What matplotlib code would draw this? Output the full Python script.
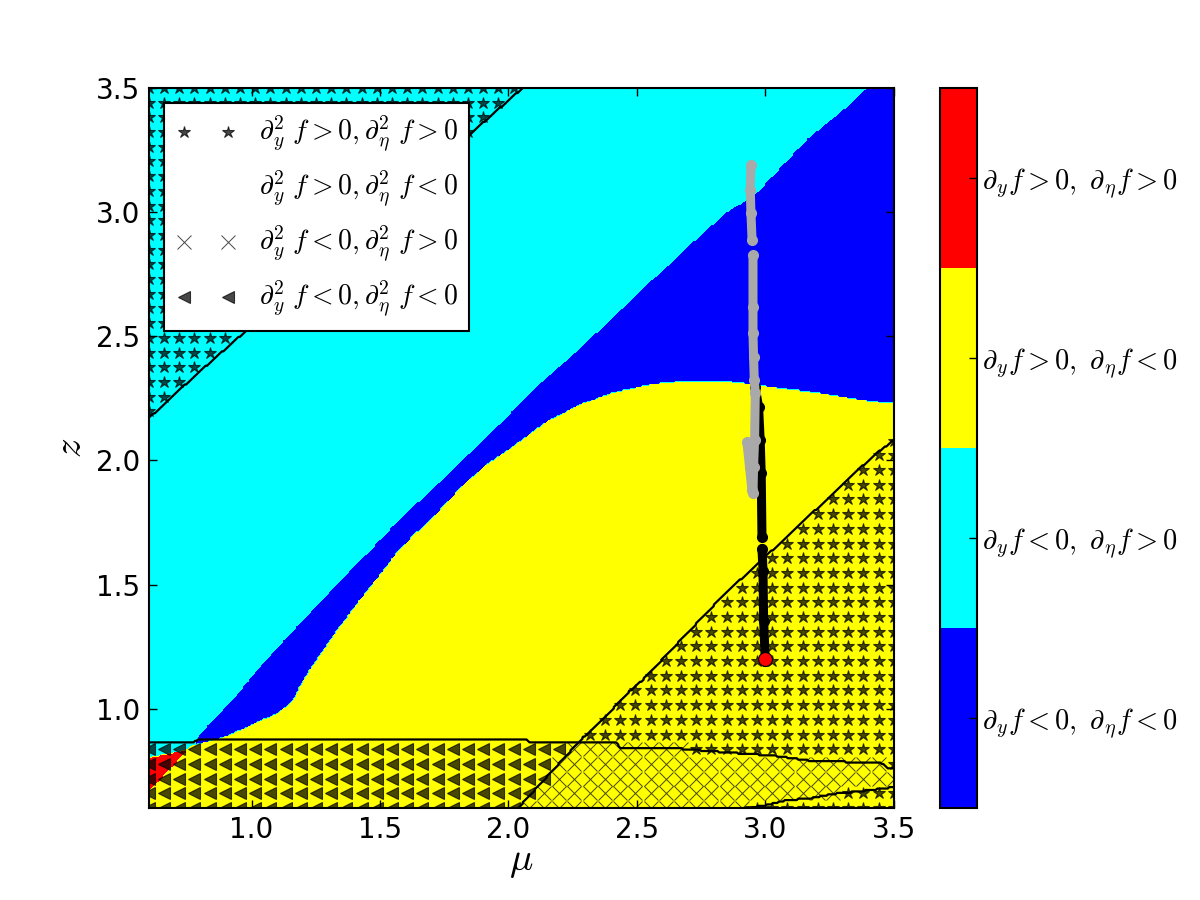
import numpy as np
import matplotlib
matplotlib.use("Agg")
import matplotlib.pyplot as plt
from matplotlib.lines import Line2D

plt.rcParams["mathtext.fontset"] = "cm"
plt.rcParams["font.family"] = ["DejaVu Sans"]

# ---- first derivative regions (colour field), boundaries
# lower edge of the cyan region
cyan_x = [0.60, 0.74, 0.78, 0.797, 0.930, 1.043, 1.188, 1.355, 1.477, 1.551, 1.746,
          1.863, 2.016, 2.148, 2.219, 2.410, 2.676, 2.852, 2.957, 3.164, 3.309, 3.395, 3.50]
cyan_y = [0.80, 0.83, 0.855, 0.899, 1.044, 1.185, 1.347, 1.528, 1.657, 1.738, 1.931,
          2.048, 2.202, 2.335, 2.399, 2.581, 2.843, 3.004, 3.069, 3.298, 3.419, 3.50, 3.60]
# upper edge of the yellow region (below the blue band)
yel_x = [0.60, 0.74, 0.773, 0.891, 0.981, 1.109, 1.164, 1.188, 1.227, 1.281, 1.344, 1.422,
         1.500, 1.566, 1.633, 1.711, 1.762, 1.848, 1.914, 2.016, 2.148, 2.277, 2.406, 2.5625,
         2.695, 2.836, 2.969, 3.109, 3.203, 3.320, 3.422, 3.50]
yel_y = [0.80, 0.83, 0.851, 0.883, 0.923, 0.984, 1.032, 1.085, 1.153, 1.234, 1.327, 1.435,
         1.536, 1.625, 1.698, 1.770, 1.831, 1.919, 1.980, 2.052, 2.153, 2.222, 2.270, 2.306,
         2.319, 2.319, 2.302, 2.282, 2.270, 2.250, 2.234, 2.230]
# lower edge of the red corner
red_x = [0.60, 0.745]
red_y = [0.67, 0.83]

cbar_labels = [r"$\partial_y f<0,\ \partial_\eta f<0$",
               r"$\partial_y f<0,\ \partial_\eta f>0$",
               r"$\partial_y f>0,\ \partial_\eta f<0$",
               r"$\partial_y f>0,\ \partial_\eta f>0$"]
cbar_colors = ["blue", "cyan", "yellow", "red"]

# ---- second derivative zero lines
# d2_eta f = 0 (top-left line and big diagonal)
l1_x = [0.60, 0.773, 2.055, 2.60]
l1_y = [2.17, 2.335, 3.50, 4.00]
l2_x = [1.80, 2.035, 2.289, 2.367, 2.473, 2.520, 2.836, 3.047, 3.422, 3.50]
l2_y = [0.36, 0.597, 0.883, 0.956, 1.073, 1.113, 1.456, 1.657, 2.020, 2.081]
# d2_y f = 0 (near-horizontal line and bottom-right line)
hu_x = [0.60, 0.77, 0.79, 2.07, 2.08, 2.289, 2.422, 2.434, 2.668, 2.863, 3.031,
        3.176, 3.449, 3.477, 3.50]
hu_y = [0.863, 0.863, 0.875, 0.875, 0.863, 0.863, 0.863, 0.843, 0.839, 0.823, 0.811,
        0.790, 0.782, 0.762, 0.762]
w_x = [2.85, 2.902, 2.992, 3.070, 3.1875, 3.266, 3.383, 3.477, 3.50]
w_y = [0.55, 0.597, 0.609, 0.629, 0.641, 0.657, 0.669, 0.681, 0.685]

legend_labels = [r"$\partial^2_y\ f>0,\partial^2_\eta\ f>0$",
                 r"$\partial^2_y\ f>0,\partial^2_\eta\ f<0$",
                 r"$\partial^2_y\ f<0,\partial^2_\eta\ f>0$",
                 r"$\partial^2_y\ f<0,\partial^2_\eta\ f<0$"]

# ---- trajectories
black_x = [3.000, 2.9934, 2.991, 2.987, np.nan, 2.987, 2.984, 2.980, 2.9738, 2.961]
black_y = [1.194, 1.355, 1.556, 1.645, np.nan, 1.690, 1.948, 2.081, 2.214, 2.294]
grey_x = [2.9285, 2.9387, 2.948, 2.952, 2.9543, 2.9582, 2.961, 2.957, 2.9543, 2.952,
          2.952, 2.952, np.nan, 2.9484, 2.9441, 2.9414, 2.9441]
grey_y = [2.073, 1.972, 1.879, 1.867, 1.972, 2.081, 2.270, 2.323, 2.415, 2.512,
          2.617, 2.826, np.nan, 2.887, 2.996, 3.089, 3.190]
start_x, start_y = 3.0, 1.2

xmin, xmax, ymin, ymax = 0.6, 3.5, 0.6, 3.5

# fine grid for the colour field and the zero lines
fx = np.linspace(xmin, xmax, 500)
fy = np.linspace(ymin, ymax, 500)
FX, FY = np.meshgrid(fx, fy)


def classify(X, Y):
    c_lo = np.interp(X, cyan_x, cyan_y)
    y_hi = np.interp(X, yel_x, yel_y)
    r_lo = np.interp(X, red_x, red_y)
    cat = np.full(X.shape, 2.0)
    cat[Y > y_hi] = 0
    cat[Y > c_lo] = 1
    cat[(X < red_x[-1]) & (Y > r_lo) & (Y <= c_lo)] = 3
    s_yy = np.where((Y > np.interp(X, hu_x, hu_y)) | (Y < np.interp(X, w_x, w_y)), 1, -1)
    s_ee = np.where((Y > np.interp(X, l1_x, l1_y)) | (Y < np.interp(X, l2_x, l2_y)), 1, -1)
    return cat, s_yy, s_ee


cat, s_yy, s_ee = classify(FX, FY)

# coarse grid for the marker pattern
gx, gy = np.meshgrid(np.linspace(xmin, xmax, 50), np.linspace(ymin, ymax, 50))
_, g_yy, g_ee = classify(gx, gy)

fig = plt.figure(figsize=(12, 9), dpi=100)
ax = fig.add_axes([0.124, 0.1022, 0.6208, 0.8])
cax = fig.add_axes([0.7833, 0.1022, 0.0308, 0.8])

cf = ax.contourf(FX, FY, cat, levels=[-0.5, 0.5, 1.5, 2.5, 3.5], colors=cbar_colors)

mk = dict(ls="none", color="k", alpha=0.72)
m_pp = (g_yy > 0) & (g_ee > 0)
m_np = (g_yy < 0) & (g_ee > 0)
m_nn = (g_yy < 0) & (g_ee < 0)
h1, = ax.plot(gx[m_pp], gy[m_pp], marker="*", ms=9, mew=0.8, **mk)
h3, = ax.plot(gx[m_np], gy[m_np], marker="x", ms=10.5, mew=0.7, **mk)
h4, = ax.plot(gx[m_nn], gy[m_nn], marker="<", ms=9, mew=0.8, **mk)
h2 = Line2D([], [], ls="none", marker="")

ax.contour(FX, FY, s_yy, levels=[0], colors="k", linewidths=1.6)
ax.contour(FX, FY, s_ee, levels=[0], colors="k", linewidths=1.6)

ax.plot(black_x, black_y, "-o", color="k", lw=6.5, ms=7, solid_capstyle="round", zorder=5)
ax.plot(grey_x, grey_y, "-o", color="darkgray", lw=6.5, ms=7, solid_capstyle="round", zorder=6)
ax.plot([start_x], [start_y], "o", color="red", mec="k", ms=10, mew=0.8, zorder=7)

ax.set_xlim(xmin, xmax)
ax.set_ylim(ymin, ymax)
ax.set_xticks([1.0, 1.5, 2.0, 2.5, 3.0, 3.5])
ax.set_yticks([1.0, 1.5, 2.0, 2.5, 3.0, 3.5])
ax.tick_params(direction="in", top=True, right=True, length=6, width=1, labelsize=20, pad=6)
for s in ax.spines.values():
    s.set_linewidth(1.5)
ax.set_xlabel(r"$\mu$", fontsize=28, labelpad=-2)
ax.set_ylabel(r"$z$", fontsize=28, labelpad=5)

leg = ax.legend([h1, h2, h3, h4], legend_labels, loc="upper left", numpoints=2,
                fontsize=20, fancybox=False, framealpha=1, edgecolor="k",
                borderpad=0.4, labelspacing=0.5, handlelength=2.2, handletextpad=0.8,
                borderaxespad=0.55)
leg.get_frame().set_linewidth(1.5)
leg.set_zorder(10)

cb = fig.colorbar(cf, cax=cax, ticks=[0, 1, 2, 3])
cb.ax.set_yticklabels(cbar_labels, fontsize=20.5)
cb.ax.tick_params(direction="in", length=6, width=1)
cb.outline.set_linewidth(1.5)

fig.savefig("out.png", dpi=100)
